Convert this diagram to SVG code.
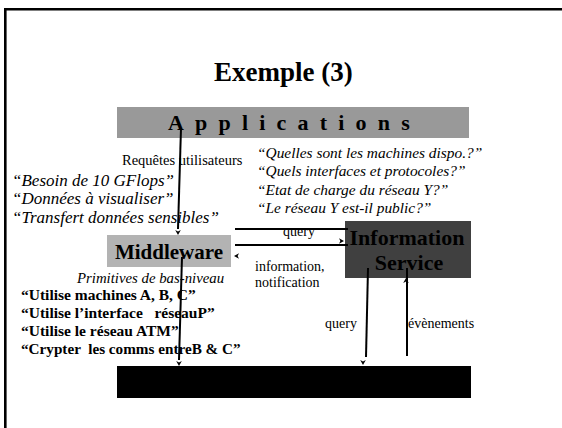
<svg xmlns="http://www.w3.org/2000/svg" width="562" height="428" viewBox="0 0 562 428">
  <style>
    .t { font-family: "Liberation Serif", "Times New Roman", serif; fill: #000; }
    .b { font-weight: bold; }
    .i { font-style: italic; }
    .ln { stroke: #000; stroke-width: 2; fill: none; }
  </style>
  <defs>
    <!-- small arrowhead, tip at origin, pointing right -->
    <path id="head" d="M0,0 L-5,-2.8 L-3.6,0 L-5,2.8 Z" fill="#000"/>
  </defs>

  <rect width="562" height="428" fill="#fff"/>
  <!-- slide frame -->
  <path d="M5.3,432 V9.3 H566" fill="none" stroke="#000" stroke-width="2.6"/>

  <text class="t b" x="214" y="81" font-size="27">Exemple (3)</text>

  <g id="applications">
    <rect x="117" y="107" width="352" height="31" fill="#999999"/>
    <text class="t b" x="168" y="130" font-size="22" letter-spacing="11.2">Applications</text>
  </g>

  <g id="middleware">
    <rect x="107" y="235" width="124" height="32" fill="#b3b3b3"/>
    <text class="t b" x="169" y="259" font-size="21" text-anchor="middle">Middleware</text>
  </g>

  <g id="information-service">
    <rect x="345" y="221" width="126" height="57" fill="#404040"/>
    <text class="t b" x="407" y="245" font-size="22" text-anchor="middle">Information</text>
    <text class="t b" x="409" y="270" font-size="22" text-anchor="middle">Service</text>
  </g>

  <g id="resources">
    <rect x="117" y="366" width="354" height="32" fill="#000"/>
  </g>

  <g id="connectors">
    <line class="ln" x1="181" y1="128" x2="178" y2="229"/>
    <use href="#head" transform="translate(178,235) rotate(90)"/>
    <line class="ln" x1="182" y1="257" x2="179" y2="360"/>
    <use href="#head" transform="translate(179,366) rotate(90)"/>
    <line class="ln" x1="235" y1="229" x2="348" y2="229"/>
    <line class="ln" x1="235" y1="245" x2="348" y2="245"/>
    <use href="#head" transform="translate(344,241)"/>
    <use href="#head" transform="translate(234,256) rotate(180)"/>
    <line class="ln" x1="368" y1="268" x2="366" y2="357"/>
    <use href="#head" transform="translate(363,365) rotate(90)"/>
    <line class="ln" x1="407" y1="356" x2="407" y2="268"/>
    <use href="#head" transform="translate(406,278) rotate(-90)"/>
  </g>

  <g id="labels">
    <text class="t" x="122" y="165" font-size="14.5">Requêtes utilisateurs</text>
    <text class="t i" x="12" y="186" font-size="17">“Besoin de 10 GFlops”</text>
    <text class="t i" x="12" y="204" font-size="17">“Données à visualiser”</text>
    <text class="t i" x="12" y="223" font-size="17">“Transfert données sensibles”</text>

    <text class="t i" x="257" y="158" font-size="15.4">“Quelles sont les machines dispo.?”</text>
    <text class="t i" x="257" y="176" font-size="15.4">“Quels interfaces et protocoles?”</text>
    <text class="t i" x="257" y="195" font-size="15.4">“Etat de charge du réseau Y?”</text>
    <text class="t i" x="257" y="213" font-size="15.4">“Le réseau Y est-il public?”</text>

    <text class="t" x="283" y="236" font-size="14">query</text>
    <text class="t" x="255" y="271" font-size="14">information,</text>
    <text class="t" x="255" y="287" font-size="14">notification</text>

    <text class="t i" x="77" y="283" font-size="14.8">Primitives de bas-niveau</text>
    <text class="t b" x="21" y="300" font-size="15.5">“Utilise machines A, B, C”</text>
    <text class="t b" x="21" y="317.5" font-size="15.5" xml:space="preserve">“Utilise l’interface   réseauP”</text>
    <text class="t b" x="21" y="335.5" font-size="15.5">“Utilise le réseau ATM”</text>
    <text class="t b" x="21" y="354" font-size="15.2" xml:space="preserve">“Crypter  les comms entreB &amp; C”</text>

    <text class="t" x="325" y="328" font-size="14">query</text>
    <text class="t" x="408" y="328" font-size="14">évènements</text>
  </g>
</svg>
